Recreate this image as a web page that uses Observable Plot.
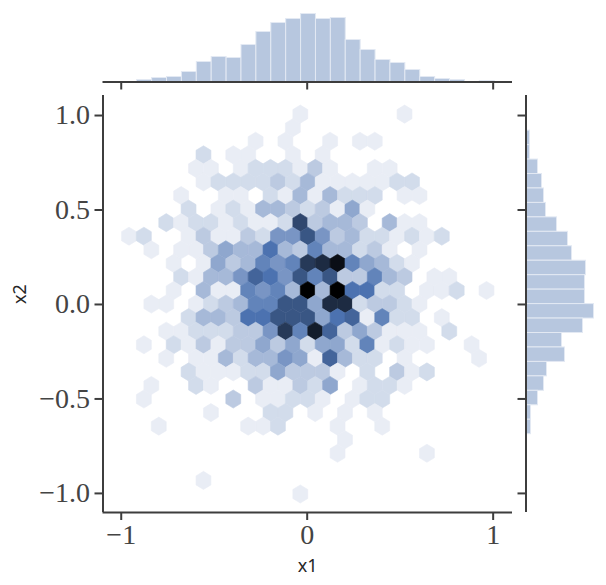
<!DOCTYPE html>
<html>
<head>
<meta charset="utf-8">
<style>
html,body{margin:0;padding:0;background:#fff}
#chart{position:relative;width:606px;height:585px;overflow:hidden}
#chart svg{position:absolute;background:transparent}
</style>
<script src="https://cdn.jsdelivr.net/npm/d3@7"></script>
<script src="https://cdn.jsdelivr.net/npm/@observablehq/plot@0.6"></script>
</head>
<body>
<div id="chart"></div>
<script>
// Hex grid (data units of x1, x2)
const hexOriginX = 0.003, hexStepX = 0.0801, hexOriginY = 0.074, hexStepY = 0.0718;
const rowIndex = [-13,-12,-11,-10,-9,-8,-7,-6,-5,-4,-3,-2,-1,0,1,2,3,4,5,6,7,8,9,10,11,12,14,15];
const rowStart = [-1,-1,-4,-7,-8,-7,-9,-8,-10,-12,-11,-9,-9,-9,-11,-8,-10,-11,-10,-8,-11,-11,-7,-10,2,2,-7,-1];
const rowCounts = [
  [1,0,0,0,0,0,0,1],
  [1],
  [1,0,1,0,0,1,0,1,1],
  [2,0,1,1,0,0,1,0,1],
  [1,1,0,1,2,2,2,1,3,1,0,0,1,1],
  [1,2,2,2,2,3,2,4,1,1,1,1,1,2,2],
  [1,0,0,1,1,0,2,1,4,1,4,2,2,2,0,1,1],
  [2,0,1,2,1,4,4,3,2,3,1,5,1],
  [2,1,2,2,1,2,1,1,2,11,3,4,4,3,0,4,1,1],
  [1,2,0,0,1,3,1,1,3,2,6,6,10,6,3,4,2,2,1,2,1,2],
  [1,0,1,1,3,5,4,4,8,4,3,7,4,4,2,3,1,0,1],
  [1,0,1,5,3,4,7,6,7,12,13,15,7,5,4,2,1],
  [2,1,4,4,6,9,8,6,10,7,10,3,3,7,4,3,0,1,1],
  [1,0,4,1,1,7,6,7,4,16,4,16,8,8,2,2,0,1,1,2,0,1],
  [1,1,0,1,2,3,4,7,7,10,10,5,13,13,2,3,3,2,1],
  [2,4,4,3,8,8,10,10,10,5,8,9,1,7,2,2,0,1],
  [1,1,2,2,2,3,3,6,12,7,14,9,3,5,3,1,1,1,0,2],
  [1,0,2,1,3,1,3,3,5,3,5,2,5,5,2,7,1,2,1,1,0,0,1],
  [1,0,1,1,4,2,4,4,6,5,1,9,4,2,2,0,1,0,0,0,0,1],
  [2,1,1,1,2,2,5,3,3,3,1,0,2,0,3,1,2],
  [1,0,0,2,1,0,0,3,1,1,3,2,5,0,1,2,2,1],
  [1,0,0,0,0,0,3,0,1,1,2,2,1,0,1,2,2],
  [1,0,0,0,2,2,0,1,0,1,0,1],
  [1,0,0,0,0,0,1,1,2,0,0,0,1,0,0,1],
  [1],
  [1,0,0,0,0,0,1],
  [1],
  [1]
];
// Marginal histograms
const topFirstEdge = -0.914, topBinWidth = 0.0801;
const topCounts = [2,4,5,10,20,25,24,37,50,59,63,68,63,64,42,32,22,19,12,5,3,2,0,1];
const rightFirstEdge = 0.92, rightBinWidth = 0.0765;
const rightCounts = [4,4,12,16,18,20,31,42,46,60,59,59,68,57,36,39,21,18,12,5,5];
// Ticks and labels
const xTicks = [-1,0,1];
const yTicks = [-1,-0.5,0,0.5,1];
const xDomain = [-1.098,1.104];
const yDomain = [-1.101,1.106];
const xLabel = "x1", yLabel = "x2";
const ink = "#3d3d3d", barFill = "#b7c7df", barEdge = "#e3e9f3";

const hexes = rowIndex.flatMap((r,i) => rowCounts[i].map((c,j) => {
  const k = rowStart[i] + j;
  return {
    x1: hexOriginX + (k + (Math.abs(r) % 2 ? 0.5 : 0)) * hexStepX,
    x2: hexOriginY - r * hexStepY,
    count: c
  };
})).filter(d => d.count > 0);

const topBins = topCounts.map((c,i) => ({x1: topFirstEdge + i*topBinWidth, x2: topFirstEdge + (i+1)*topBinWidth, count: c})).filter(d => d.count > 0);
const rightBins = rightCounts.map((c,i) => ({y1: rightFirstEdge - i*rightBinWidth, y2: rightFirstEdge - (i+1)*rightBinWidth, count: c}));

// Matplotlib hexbin hexagon: taller than a regular one
const tallHex = {
  draw(ctx, size) {
    const r = Math.sqrt(size / Math.PI), w = r * 0.823;
    ctx.moveTo(0,-r); ctx.lineTo(w,-r/2); ctx.lineTo(w,r/2);
    ctx.lineTo(0,r); ctx.lineTo(-w,r/2); ctx.lineTo(-w,-r/2); ctx.closePath();
  }
};

const tickFont = "'Liberation Serif', serif";
const labelFont = "'Noto Sans', sans-serif";

const mainPlot = Plot.plot({
  width: 606, height: 585,
  marginLeft: 102.5, marginRight: 94, marginTop: 95, marginBottom: 73,
  x: {domain: xDomain, axis: null},
  y: {domain: yDomain, axis: null},
  color: {type: "linear", domain: [0,8,16], range: ["#ffffff","#4C72B0","#000000"], interpolate: "rgb"},
  marks: [
    Plot.dot(hexes, {x: "x1", y: "x2", fill: "count", stroke: "count", strokeWidth: 0.6, symbol: tallHex, r: 9.05}),
    Plot.ruleX([xDomain[0]], {stroke: ink, strokeWidth: 2}),
    Plot.ruleY([yDomain[0]], {stroke: ink, strokeWidth: 2}),
    Plot.axisX(xTicks, {anchor: "bottom", label: null, tickSize: 8, tickPadding: 4, stroke: ink, strokeWidth: 2, fill: "#444", fontSize: 28, fontFamily: tickFont, tickFormat: d3.format("d")}),
    Plot.axisY(yTicks, {anchor: "left", label: null, tickSize: 8, tickPadding: 5, stroke: ink, strokeWidth: 2, fill: "#444", fontSize: 28, fontFamily: tickFont, tickFormat: d3.format(".1f")}),
    Plot.text([xLabel], {frameAnchor: "bottom", dy: 59, fontSize: 18, fontFamily: labelFont, fill: "#262626"}),
    Plot.text([yLabel], {frameAnchor: "left", dx: -83, rotate: -90, fontSize: 18, fontFamily: labelFont, fill: "#262626"})
  ]
});

const topPlot = Plot.plot({
  width: 606, height: 95,
  marginLeft: 102.5, marginRight: 94, marginTop: 0, marginBottom: 13.5,
  x: {domain: xDomain, axis: null},
  y: {domain: [0,81.5], axis: null},
  marks: [
    Plot.rectY(topBins, {x1: "x1", x2: "x2", y: "count", fill: barFill, stroke: barEdge, strokeWidth: 1, inset: 0}),
    Plot.ruleY([0], {stroke: ink, strokeWidth: 2}),
    Plot.axisX(xTicks, {anchor: "bottom", label: null, tickSize: 8, text: null, stroke: ink, strokeWidth: 2})
  ]
});

const rightPlot = Plot.plot({
  width: 94, height: 585,
  marginLeft: 13.5, marginRight: 0, marginTop: 95, marginBottom: 73,
  x: {domain: [0,80.5], axis: null},
  y: {domain: yDomain, axis: null},
  marks: [
    Plot.rectX(rightBins, {y1: "y1", y2: "y2", x: "count", fill: barFill, stroke: barEdge, strokeWidth: 1}),
    Plot.ruleX([0], {stroke: ink, strokeWidth: 2}),
    Plot.axisY(yTicks, {anchor: "left", label: null, tickSize: 8, text: null, stroke: ink, strokeWidth: 2})
  ]
});

const root = document.getElementById("chart");
mainPlot.style.left = "0"; mainPlot.style.top = "0";
topPlot.style.left = "0"; topPlot.style.top = "0";
rightPlot.style.left = "512px"; rightPlot.style.top = "0";
root.append(mainPlot, topPlot, rightPlot);
</script>
</body>
</html>
